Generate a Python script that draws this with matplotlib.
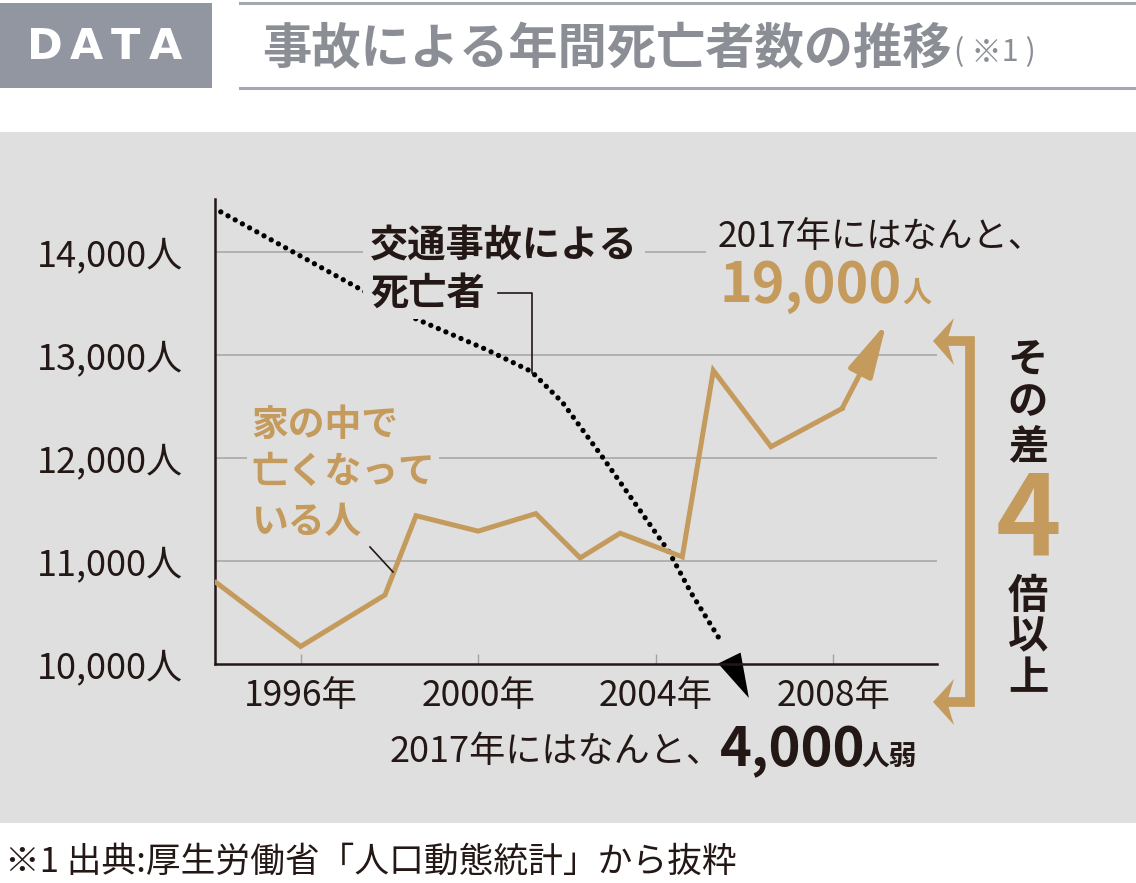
import matplotlib

matplotlib.use("Agg")
import matplotlib.pyplot as plt
from matplotlib.patches import Polygon, Rectangle

# ============================================================================
# Data
# ============================================================================

# deaths at home (gold line); the last segment ends in an arrow
HOME_YEARS = [1994.1, 1996.0, 1997.9, 1998.6, 2000.0, 2001.3, 2002.3,
              2003.2, 2004.6, 2005.3, 2006.6, 2008.2]
HOME_DEATHS = [10790, 10170, 10670, 11440, 11290, 11460, 11030,
               11270, 11040, 12850, 12110, 12480]
HOME_ARROW_TIP = (2009.2, 13310)

# traffic accident deaths (dotted line); ends in an arrow below the axis
TRAFFIC_YEARS = [1994.2, 1997.3, 1998.5, 2000.2, 2001.2, 2001.9, 2002.8,
                 2003.6, 2004.3, 2004.8, 2005.5]
TRAFFIC_DEATHS = [14390, 13650, 13370, 13050, 12840, 12540, 12010,
                  11520, 11090, 10690, 10200]
TRAFFIC_ARROW_TIP = (2006.1, 9670)

Y_TICKS = [10000, 11000, 12000, 13000, 14000]
Y_TICK_LABELS = ["10,000人", "11,000人", "12,000人", "13,000人", "14,000人"]
X_TICKS = [1996, 2000, 2004, 2008]
X_TICK_LABELS = ["1996年", "2000年", "2004年", "2008年"]

# ============================================================================
# Style
# ============================================================================

W, H = 1136, 883
PANEL = "#dfdfdf"
GOLD = "#c49b5c"
BLACK = "#231815"
GRID = "#a3a3a3"
HEADER_GRAY = "#9296a0"
TITLE_GRAY = "#8b8e95"

plt.rcParams["font.family"] = ["Noto Sans CJK JP", "DejaVu Sans"]

fig = plt.figure(figsize=(W / 100, H / 100), dpi=100)
fig.patch.set_facecolor("white")

# background layer, pixel coordinates (y down)
bg = fig.add_axes([0, 0, 1, 1], zorder=0)
bg.set_xlim(0, W)
bg.set_ylim(H, 0)
bg.axis("off")
bg.add_patch(Rectangle((0, 132), W, 691, facecolor=PANEL, edgecolor="none"))
bg.add_patch(Rectangle((0, 3), 212, 85, facecolor=HEADER_GRAY, edgecolor="none"))
for letter, cx in zip("DATA", [45, 86, 125, 165]):
    bg.text(cx, 47, letter, color="white", fontsize=31, weight="bold",
            ha="center", va="center", family=["DejaVu Sans"])
bg.plot([240, W], [3, 3], color="#a4a8b0", lw=2.2)
bg.plot([240, W], [88, 88], color="#a4a8b0", lw=2.2)
bg.text(262, 50, "事故による年間死亡者数の推移", fontsize=35.5, weight="bold",
        color=TITLE_GRAY, ha="left", va="center")
bg.text(954, 53, "( ※1 )", fontsize=22, color=TITLE_GRAY, ha="left", va="center")
bg.text(5, 862, "※1 出典:厚生労働省「人口動態統計」から抜粋", fontsize=25,
        color=BLACK, ha="left", va="center")

# main chart
ax = fig.add_axes([215 / W, 1 - 664 / H, (937 - 215) / W, (664 - 199) / H],
                  zorder=1)
ax.patch.set_visible(False)
ax.set_xlim(1994.07, 2010.34)
ax.set_ylim(10000, 14515)

for y in Y_TICKS[1:]:
    ax.axhline(y, color=GRID, lw=1.1, zorder=1)

for side in ["top", "right"]:
    ax.spines[side].set_visible(False)
for side in ["left", "bottom"]:
    ax.spines[side].set_color(BLACK)
    ax.spines[side].set_linewidth(1.8)

ax.set_xticks(X_TICKS)
ax.set_xticklabels(X_TICK_LABELS)
ax.set_yticks(Y_TICKS)
ax.set_yticklabels(Y_TICK_LABELS)
ax.tick_params(axis="x", direction="in", length=7, width=1, color=GRID,
               labelsize=25.5, labelcolor=BLACK, pad=10)
ax.tick_params(axis="y", length=0, labelsize=26, labelcolor=BLACK, pad=23)

ax.plot(HOME_YEARS, HOME_DEATHS, color=GOLD, lw=3.6,
        solid_joinstyle="miter", zorder=3)
ax.annotate(
    "",
    xy=HOME_ARROW_TIP,
    xytext=(HOME_YEARS[-1], HOME_DEATHS[-1]),
    arrowprops=dict(arrowstyle="-|>,head_length=3.3,head_width=0.8",
                    mutation_scale=10, color=GOLD, lw=3.6,
                    shrinkA=0, shrinkB=0),
    annotation_clip=False,
    zorder=3,
)

ax.plot(TRAFFIC_YEARS, TRAFFIC_DEATHS, color="black", lw=3.8,
        linestyle=(0, (0.01, 1.55)), dash_capstyle="round",
        clip_on=False, zorder=2)
ax.annotate(
    "",
    xy=TRAFFIC_ARROW_TIP,
    xytext=(TRAFFIC_YEARS[-1], TRAFFIC_DEATHS[-1]),
    arrowprops=dict(arrowstyle="-|>,head_length=3.2,head_width=0.9",
                    mutation_scale=10, facecolor="black", edgecolor="none",
                    lw=0, shrinkA=0, shrinkB=0),
    annotation_clip=False,
    zorder=2,
)

# annotation layer, pixel coordinates (y down)
ov = fig.add_axes([0, 0, 1, 1], zorder=2)
ov.set_xlim(0, W)
ov.set_ylim(H, 0)
ov.axis("off")
ov.patch.set_visible(False)

box = dict(facecolor=PANEL, edgecolor="none", pad=5)

ov.text(370, 246, "交通事故による", fontsize=27.5, weight="bold", color=BLACK,
        ha="left", va="center", bbox=box)
ov.text(370, 293, "死亡者", fontsize=27.5, weight="bold", color=BLACK,
        ha="left", va="center", bbox=box)
ov.plot([498, 532, 532], [293, 293, 373], color=BLACK, lw=1.2)

ov.text(718, 237, "2017年にはなんと、", fontsize=25.5, color=BLACK,
        ha="left", va="center", bbox=dict(facecolor=PANEL, edgecolor="none", pad=9))
ov.text(720, 302, "19,000", fontsize=40, weight="bold", color=GOLD,
        ha="left", va="baseline")
ov.text(902, 302, "人", fontsize=21, weight="bold", color=GOLD,
        ha="left", va="baseline")

for line, cy in zip(["家の中で", "亡くなって", "いる人"], [425, 472, 523]):
    ov.text(251, cy, line, fontsize=26.5, weight="bold", color=GOLD,
            ha="left", va="center",
            bbox=dict(facecolor=PANEL, edgecolor="none", pad=3))
ov.plot([370, 393], [547, 572], color=BLACK, lw=1.2)

ov.text(390, 752, "2017年にはなんと、", fontsize=26, color=BLACK,
        ha="left", va="center")
ov.text(720, 766, "4,000", fontsize=39, weight="bold", color=BLACK,
        ha="left", va="baseline")
ov.text(861, 766, "人弱", fontsize=20, weight="bold", color=BLACK,
        ha="left", va="baseline")

# bracket on the right
ov.plot([947, 970, 970, 947], [341, 341, 702, 702], color=GOLD, lw=7,
        solid_joinstyle="miter", solid_capstyle="butt")
ov.add_patch(Polygon([(933, 341), (954, 318), (947, 341), (954, 365)],
                     closed=True, facecolor=GOLD, edgecolor="none"))
ov.add_patch(Polygon([(933, 702), (954, 679), (947, 702), (954, 725)],
                     closed=True, facecolor=GOLD, edgecolor="none"))

for ch, cy in zip(["そ", "の", "差"], [361, 403, 447]):
    ov.text(1028, cy, ch, fontsize=29, weight="bold", color=BLACK,
            ha="center", va="center")
ov.text(1028, 522, "4", fontsize=80, weight="bold", color=GOLD,
        ha="center", va="center")
for ch, cy in zip(["倍", "以", "上"], [596, 637, 679]):
    ov.text(1028, cy, ch, fontsize=29, weight="bold", color=BLACK,
            ha="center", va="center")

fig.savefig("out.png", dpi=100, facecolor=fig.get_facecolor())
